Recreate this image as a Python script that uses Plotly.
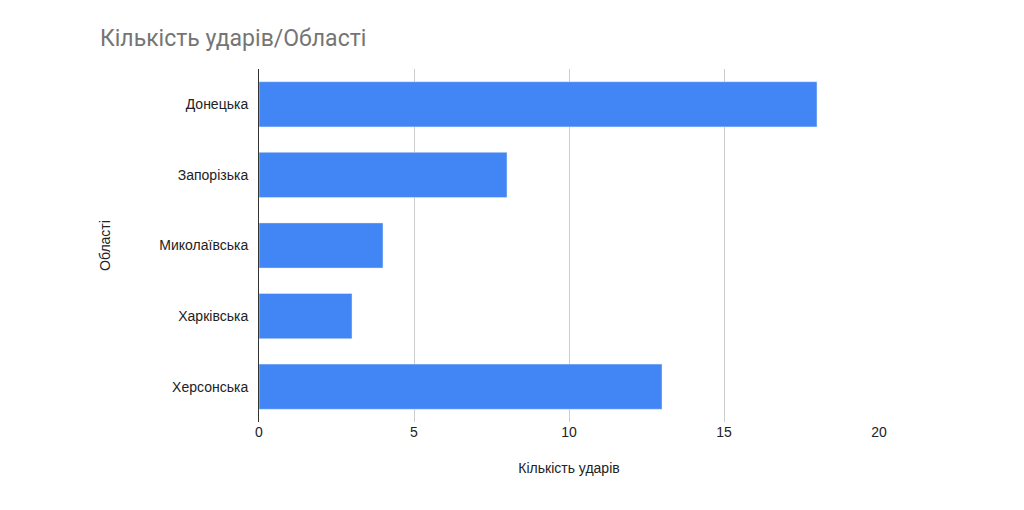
import plotly.graph_objects as go

categories = ["Донецька", "Запорізька", "Миколаївська", "Харківська", "Херсонська"]
values = [18, 8, 4, 3, 13]

fig = go.Figure(go.Bar(x=values, y=categories, orientation="h", marker_color="#4285f4"))
fig.update_layout(
    width=1024, height=510, plot_bgcolor="white", paper_bgcolor="white",
    margin=dict(l=251, r=153, t=61, b=96),
    bargap=0.36, showlegend=False,
    font=dict(family="Liberation Sans, Arial", size=14, color="#222"),
    title=dict(text="Кількість ударів/Області", x=92/1024, xanchor="left", y=1-30/510, yanchor="middle",
               font=dict(family="Roboto, Liberation Sans", size=23, color="#757575")),
)
fig.update_xaxes(range=[0, 20], tickvals=[0, 5, 10, 15, 20], showgrid=True, gridcolor="#cccccc",
                 zeroline=False, title=dict(text="Кількість ударів", standoff=24, font=dict(size=14)),
                 ticks="", showline=False)
fig.update_yaxes(autorange="reversed", showline=True, linecolor="#333", linewidth=1,
                 title=dict(text="Області", standoff=45, font=dict(size=14)), ticks="", ticklabelstandoff=7)
fig.write_html("out.html")
